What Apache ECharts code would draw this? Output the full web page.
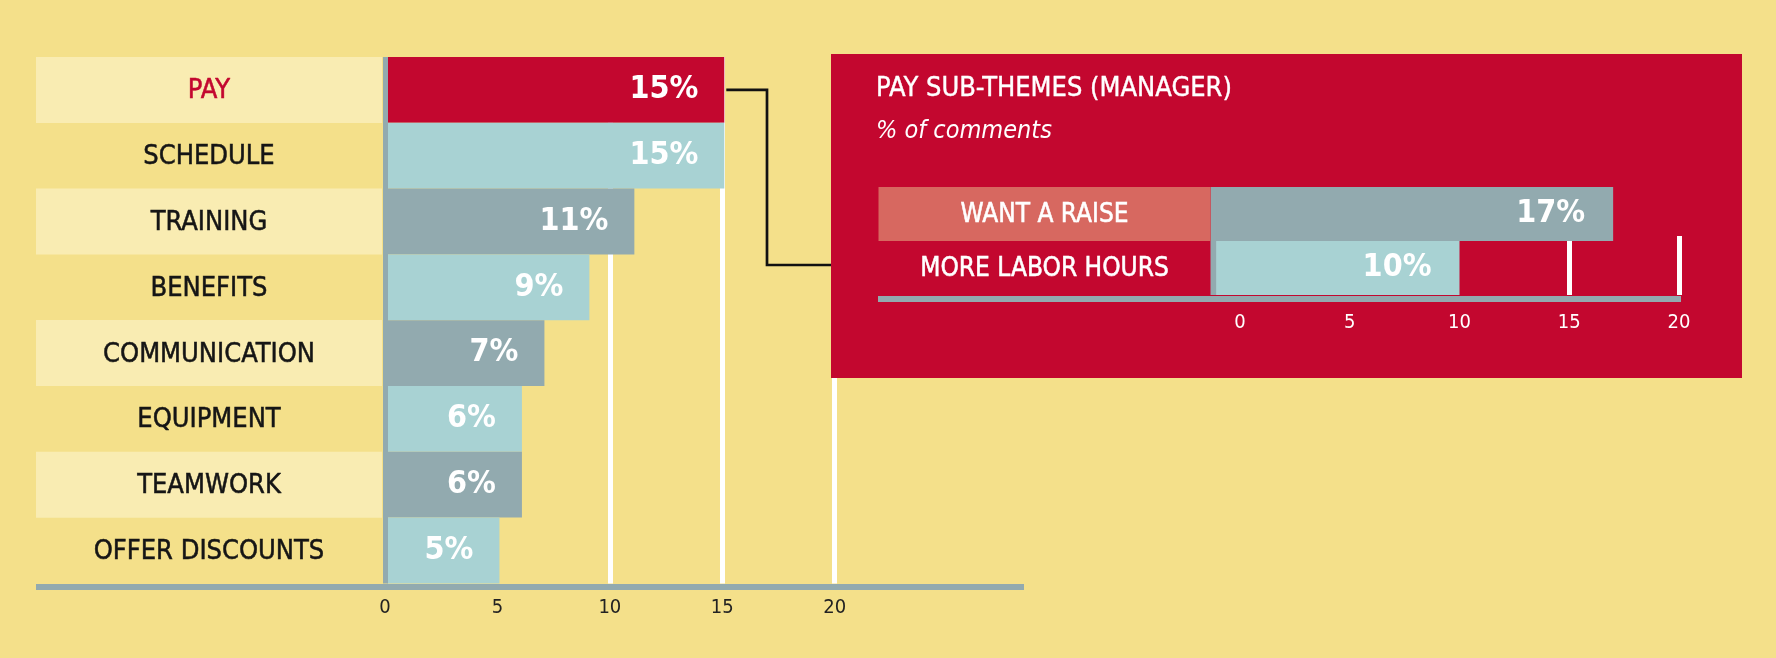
<!DOCTYPE html>
<html><head><meta charset="utf-8">
<script src="https://cdn.jsdelivr.net/npm/echarts@6/dist/echarts.min.js"></script>
<style>html,body{margin:0;padding:0;background:#F4E08A;}#c{width:1776px;height:658px;}</style>
</head><body><div id="c"></div>
<script>
// ---- data ----
const categories = ['PAY','SCHEDULE','TRAINING','BENEFITS','COMMUNICATION','EQUIPMENT','TEAMWORK','OFFER DISCOUNTS'];
const values = [15,15,11,9,7,6,6,5];
const subCategories = ['WANT A RAISE','MORE LABOR HOURS'];
const subValues = [17,10];
const tickLabels = [0,5,10,15,20];
const mainGridValues = [10,15,20];
const subGridValues = [15,20];
const insetTitle = 'PAY SUB-THEMES (MANAGER)';
const insetSubtitle = '% of comments';

// ---- style ----
const FONT = '"DejaVu Sans Condensed","Liberation Sans Narrow","Roboto Condensed","DejaVu Sans",sans-serif';
const C = {bg:'#F4E08A', band:'#F9ECB2', red:'#C3072F', teal:'#A8D2D3', slate:'#92AAAF', salmon:'#D76860', ink:'#151515'};
const barColors = [C.red, C.teal, C.slate, C.teal, C.slate, C.teal, C.slate, C.teal];
const subBarColors = [C.slate, C.teal];
const BOX = {x:831, y:54, w:911, h:324};
const AX_MIN = 0, AX_MAX = 20, AX_STEP = 5;

const chart = echarts.init(document.getElementById('c'), null, {renderer:'canvas'});

function labelStyle(color, bg, w, h, size) {
  const s = {width:w,height:h,lineHeight:h,align:'center',color:color,fontSize:size,fontFamily:FONT,
             textBorderColor:color,textBorderWidth:0.5,padding:[3,0,0,0]};
  if (bg) s.backgroundColor = bg;
  return s;
}
const mainRich = {
  p: labelStyle(C.red, C.band, 346, 63, 27),
  b: labelStyle(C.ink, C.band, 346, 63, 27),
  n: labelStyle(C.ink, null, 346, 63, 27)
};
const subRich = {
  r: labelStyle('#fff', C.salmon, 332, 51, 26),
  w: labelStyle('#fff', null, 332, 51, 26)
};
const valueLabel = {show:true,position:'insideRight',distance:26,formatter:'{c}%',color:'#fff',fontWeight:'bold',fontSize:32,fontFamily:FONT};

const option = {
  backgroundColor: C.bg,
  animation: false,
  title: {
    left: 876, top: 75, padding: 0, itemGap: 14,
    text: insetTitle, subtext: insetSubtitle,
    textStyle: {color:'#fff',fontSize:27,fontWeight:'normal',fontFamily:FONT,lineHeight:28,textBorderColor:'#fff',textBorderWidth:0.4},
    subtextStyle: {color:'#fff',fontSize:25,fontStyle:'italic',fontFamily:FONT,lineHeight:28},
    z: 6
  },
  grid: [
    {left:385, top:57, width:449.7, height:526.4},          // 0 main
    {left:36, top:500, width:988, height:86.3},            // 1 main baseline
    {left:1240, top:187, width:439, height:108},           // 2 inset bars
    {left:1240, top:236, width:439, height:59},            // 3 inset grid lines + labels
    {left:878, top:250, width:803, height:48.7}            // 4 inset baseline
  ],
  xAxis: [
    {gridIndex:0,type:'value',min:AX_MIN,max:AX_MAX,interval:AX_STEP,z:0,
     axisLine:{show:false},axisTick:{show:false,customValues:mainGridValues},
     splitLine:{show:true,lineStyle:{color:'#fff',width:5}},
     axisLabel:{color:'#222',fontSize:20,margin:14,fontFamily:FONT,customValues:tickLabels}},
    {gridIndex:1,type:'value',z:3,axisLine:{show:true,onZero:false,lineStyle:{color:C.slate,width:6,cap:'butt'}},
     axisTick:{show:false},axisLabel:{show:false},splitLine:{show:false}},
    {gridIndex:2,type:'value',min:AX_MIN,max:AX_MAX,interval:AX_STEP,startValue:-1.335,z:2,
     axisLine:{show:false},axisTick:{show:false},axisLabel:{show:false},splitLine:{show:false}},
    {gridIndex:3,type:'value',min:AX_MIN,max:AX_MAX,interval:AX_STEP,z:2,
     axisLine:{show:false},axisTick:{show:false,customValues:subGridValues},
     splitLine:{show:true,lineStyle:{color:'#fff',width:5}},
     axisLabel:{color:'#fff',fontSize:20,margin:18,fontFamily:FONT,customValues:tickLabels}},
    {gridIndex:4,type:'value',z:4,axisLine:{show:true,onZero:false,lineStyle:{color:C.slate,width:6,cap:'butt'}},
     axisTick:{show:false},axisLabel:{show:false},splitLine:{show:false}},
    // bars of the main chart are measured from the right edge of the vertical axis rule
    {gridIndex:0,type:'value',min:-0.09,max:19.91,show:false}
  ],
  yAxis: [
    {gridIndex:0,type:'category',inverse:true,data:categories,z:3,
     axisLine:{show:true,onZero:false,lineStyle:{color:C.slate,width:5,cap:'butt'}},axisTick:{show:false},
     axisLabel:{interval:0,margin:3,rich:mainRich,
       formatter:(v,i)=>'{'+(i===0?'p':(i%2===0?'b':'n'))+'|'+v+'}'}},
    {gridIndex:1,type:'value',show:false},
    {gridIndex:2,type:'category',inverse:true,data:subCategories,z:4,offset:27,
     axisLine:{show:true,onZero:false,lineStyle:{color:C.slate,width:5.3,cap:'butt'}},axisTick:{show:false},
     axisLabel:{interval:0,margin:2.5,rich:subRich,
       formatter:(v,i)=>'{'+(i===0?'r':'w')+'|'+v+'}'}},
    {gridIndex:3,type:'value',show:false},
    {gridIndex:4,type:'value',show:false}
  ],
  series: [
    {type:'bar',xAxisIndex:5,yAxisIndex:0,barWidth:'100%',z:2,silent:true,
     data:values.map((v,i)=>({value:v,itemStyle:{color:barColors[i]}})),
     label:valueLabel},
    {type:'bar',xAxisIndex:2,yAxisIndex:2,barWidth:'100%',z:3,silent:true,clip:false,
     data:subValues.map((v,i)=>({value:v,itemStyle:{color:subBarColors[i]}})),
     label:Object.assign({},valueLabel,{distance:28})}
  ]
};
chart.setOption(option);

// connector from the PAY bar to the inset box
const start = chart.convertToPixel({xAxisIndex:5,yAxisIndex:0},[values[0],0]);
const elbowX = 767, joinY = 265;
chart.setOption({
  graphic:{elements:[
    {id:'box',type:'rect',z:1,silent:true,shape:{x:BOX.x,y:BOX.y,width:BOX.w,height:BOX.h},style:{fill:C.red}},
    {id:'conn',type:'polyline',z:1,silent:true,
     shape:{points:[[start[0]+2,start[1]],[elbowX,start[1]],[elbowX,joinY],[BOX.x,joinY]]},
     style:{stroke:'#111',lineWidth:2.7,fill:null}}
  ]}
});
</script></body></html>
